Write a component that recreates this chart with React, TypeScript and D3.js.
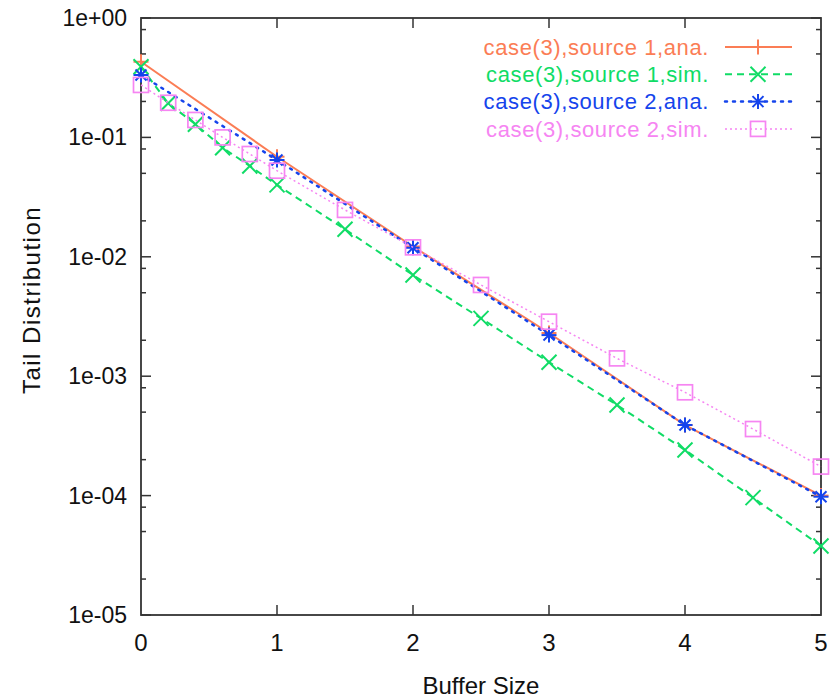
import React, { useEffect, useRef } from 'react';
import * as d3 from 'd3';

// buffer sizes where values were sampled
const xAna = [0, 1, 2, 3, 4, 5];
const xSim = [0, 0.2, 0.4, 0.6, 0.8, 1, 1.5, 2, 2.5, 3, 3.5, 4, 4.5, 5];

const source1Ana = [0.43, 0.0689, 0.0122, 0.0023, 0.00039, 0.0001];
const source1Sim = [0.39, 0.193, 0.129, 0.082, 0.0576, 0.04, 0.017, 0.00704, 0.00305, 0.00131, 0.000574, 0.000241, 0.0000961, 0.0000378];
const source2Ana = [0.333, 0.0647, 0.0119, 0.00221, 0.00039, 0.0000979];
const source2Sim = [0.275, 0.195, 0.14, 0.1, 0.0726, 0.0526, 0.0247, 0.012, 0.00581, 0.00286, 0.00141, 0.000733, 0.000361, 0.000175];

const seriesNames = [
  'case(3),source 1,ana.',
  'case(3),source 1,sim.',
  'case(3),source 2,ana.',
  'case(3),source 2,sim.',
];

const yTickLabels = ['1e+00', '1e-01', '1e-02', '1e-03', '1e-04', '1e-05'];
const xTickLabels = ['0', '1', '2', '3', '4', '5'];

const App = () => {
  const ref = useRef<SVGSVGElement>(null);
  const svgWidth = 838;
  const svgHeight = 700;
  const margin = { top: 18, right: 17, bottom: 85, left: 141 };
  const width = svgWidth - margin.left - margin.right;
  const height = svgHeight - margin.top - margin.bottom;

  useEffect(() => {
    const svg = d3.select(ref.current);
    svg.selectAll('*').remove();

    const font = '"Liberation Sans", Arial, sans-serif';
    const g = svg.append('g').attr('transform', `translate(${margin.left},${margin.top})`);

    const x = d3.scaleLinear().domain([0, 5]).range([0, width]);
    const y = d3.scaleLog().domain([1e-5, 1]).range([height, 0]);

    const series = [
      { name: seriesNames[0], xs: xAna, ys: source1Ana, color: '#fb7d55', dash: null, width: 2, marker: 'plus' },
      { name: seriesNames[1], xs: xSim, ys: source1Sim, color: '#10dc66', dash: '7,5', width: 2, marker: 'cross' },
      { name: seriesNames[2], xs: xAna, ys: source2Ana, color: '#1544ec', dash: '2,6', width: 2.5, marker: 'star' },
      { name: seriesNames[3], xs: xSim, ys: source2Sim, color: '#f685f2', dash: '2,3', width: 1.5, marker: 'square' },
    ];

    const drawMarker = (sel: any, type: string, cx: number, cy: number, color: string) => {
      const s = 7.5;
      if (type === 'plus' || type === 'star') {
        sel.append('line').attr('x1', cx - s).attr('y1', cy).attr('x2', cx + s).attr('y2', cy);
        sel.append('line').attr('x1', cx).attr('y1', cy - s).attr('x2', cx).attr('y2', cy + s);
      }
      if (type === 'cross' || type === 'star') {
        const c = type === 'star' ? 5.5 : 7.5;
        sel.append('line').attr('x1', cx - c).attr('y1', cy - c).attr('x2', cx + c).attr('y2', cy + c);
        sel.append('line').attr('x1', cx - c).attr('y1', cy + c).attr('x2', cx + c).attr('y2', cy - c);
      }
      if (type === 'square') {
        sel.append('rect').attr('x', cx - 7.5).attr('y', cy - 7.5).attr('width', 15).attr('height', 15).attr('fill', 'none');
      }
      sel.selectAll('line, rect').attr('stroke', color).attr('stroke-width', type === 'square' ? 1.7 : 2);
    };

    // frame and ticks
    const axisColor = '#333';
    g.append('rect').attr('x', 0).attr('y', 0).attr('width', width).attr('height', height)
      .attr('fill', 'none').attr('stroke', axisColor).attr('stroke-width', 1.8);

    const decades = d3.range(0, 6).map(i => Math.pow(10, -i));
    const minors: number[] = [];
    decades.slice(1).forEach(d => [2, 5, 8].forEach(m => minors.push(d * m)));

    decades.forEach((d, i) => {
      const yy = y(d);
      g.append('line').attr('x1', 0).attr('x2', 10).attr('y1', yy).attr('y2', yy).attr('stroke', axisColor).attr('stroke-width', 1.5);
      g.append('line').attr('x1', width).attr('x2', width - 10).attr('y1', yy).attr('y2', yy).attr('stroke', axisColor).attr('stroke-width', 1.5);
      g.append('text').attr('x', -14).attr('y', yy).attr('dy', '0.35em').attr('text-anchor', 'end')
        .attr('font-family', font).attr('font-size', 23).attr('fill', '#111')
        .text(yTickLabels[i]);
    });
    minors.forEach(m => {
      const yy = y(m);
      g.append('line').attr('x1', 0).attr('x2', 5).attr('y1', yy).attr('y2', yy).attr('stroke', axisColor).attr('stroke-width', 1.5);
      g.append('line').attr('x1', width).attr('x2', width - 5).attr('y1', yy).attr('y2', yy).attr('stroke', axisColor).attr('stroke-width', 1.5);
    });

    d3.range(0, 6).forEach(i => {
      const xx = x(i);
      if (i > 0 && i < 5) {
        g.append('line').attr('x1', xx).attr('x2', xx).attr('y1', height).attr('y2', height - 10).attr('stroke', axisColor).attr('stroke-width', 1.5);
        g.append('line').attr('x1', xx).attr('x2', xx).attr('y1', 0).attr('y2', 10).attr('stroke', axisColor).attr('stroke-width', 1.5);
      }
      g.append('text').attr('x', xx).attr('y', height + 28).attr('dy', '0.35em').attr('text-anchor', 'middle')
        .attr('font-family', font).attr('font-size', 24).attr('fill', '#111')
        .text(xTickLabels[i]);
    });

    // axis titles
    g.append('text').attr('x', width / 2).attr('y', height + 71).attr('dy', '0.35em').attr('text-anchor', 'middle')
      .attr('font-family', font).attr('font-size', 24).attr('fill', '#111').text('Buffer Size');
    g.append('text').attr('transform', `translate(${32 - margin.left},${300 - margin.top}) rotate(-90)`)
      .attr('dy', '0.35em').attr('text-anchor', 'middle')
      .attr('font-family', font).attr('font-size', 24).attr('letter-spacing', 1.5).attr('fill', '#111').text('Tail Distribution');

    // data lines
    const line = d3.line<[number, number]>().x(d => x(d[0])).y(d => y(d[1]));
    series.forEach(s => {
      const pts: [number, number][] = s.xs.map((v, i) => [v, s.ys[i]]);
      g.append('path').datum(pts).attr('d', line).attr('fill', 'none')
        .attr('stroke', s.color).attr('stroke-width', s.width)
        .attr('stroke-dasharray', s.dash).attr('stroke-linecap', s.dash === '2,6' ? 'round' : 'butt');
      pts.forEach(p => {
        drawMarker(g.append('g'), s.marker, x(p[0]), y(p[1]), s.color);
      });
    });

    // legend
    const lg = svg.append('g');
    series.forEach((s, i) => {
      const ly = 47 + i * 27.3;
      lg.append('text').attr('x', 709).attr('y', ly).attr('dy', '0.35em').attr('text-anchor', 'end')
        .attr('font-family', font).attr('font-size', 22).attr('letter-spacing', 0.6).attr('fill', s.color)
        .text(s.name);
      lg.append('line').attr('x1', 725).attr('x2', 792).attr('y1', ly).attr('y2', ly)
        .attr('stroke', s.color).attr('stroke-width', s.width).attr('stroke-dasharray', s.dash)
        .attr('stroke-linecap', s.dash === '2,6' ? 'round' : 'butt');
      drawMarker(lg.append('g'), s.marker, 758, ly, s.color);
    });
  }, []);

  return (
    <svg ref={ref} width={svgWidth} height={svgHeight}
      style={{ position: 'absolute', left: 0, top: 0, background: '#fff' }} />
  );
};

export default App;
